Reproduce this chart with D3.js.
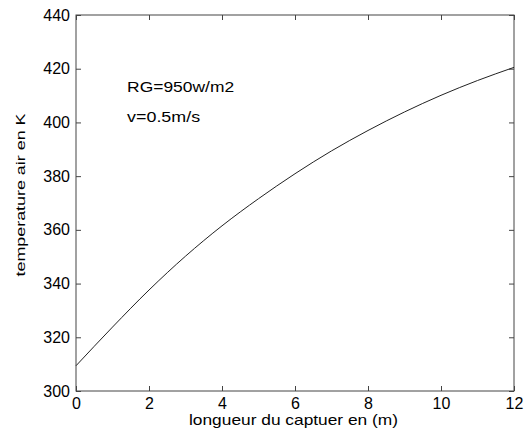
<!DOCTYPE html>
<html><head><meta charset="utf-8">
<script src="https://cdn.jsdelivr.net/npm/d3@7"></script>
<style>body{margin:0;background:#fff}svg{font-family:"Liberation Sans",Arial,sans-serif}</style>
</head><body>
<svg id="c" width="526" height="430"></svg>
<script>
const lengths = [0,1,2,3,4,5,6,7,8,9,10,11,12];
const temperatures = [309.4,323.8,337.6,350.2,361.5,371.6,380.9,389.4,397.0,403.9,410.1,415.6,420.5];
const xTicks = [0,2,4,6,8,10,12];
const yTicks = [300,320,340,360,380,400,420,440];
const annotations = ["RG=950w/m2","v=0.5m/s"];
const xLabel = "longueur du captuer en (m)";
const yLabel = "temperature air en K";

const svg = d3.select("#c");
const L=76, R=514, T=15, B=391;
const x = d3.scaleLinear().domain([0,12]).range([L,R]);
const y = d3.scaleLinear().domain([300,440]).range([B,T]);
const axisColor = "#444";

const g = svg.append("g");
function styleAxis(sel, showLabels){
  sel.select(".domain").remove();
  sel.selectAll("line").attr("stroke",axisColor);
  sel.selectAll("text").attr("fill","#000").style("font-size","16px");
  if(!showLabels) sel.selectAll("text").remove();
}
g.append("g").attr("transform",`translate(0,${B})`)
  .call(d3.axisBottom(x).tickValues(xTicks).tickSizeInner(-5).tickSizeOuter(0).tickPadding(7))
  .call(s=>styleAxis(s,true));
g.append("g").attr("transform",`translate(0,${T})`)
  .call(d3.axisTop(x).tickValues(xTicks).tickSizeInner(-5).tickSizeOuter(0))
  .call(s=>styleAxis(s,false));
g.append("g").attr("transform",`translate(${L},0)`)
  .call(d3.axisLeft(y).tickValues(yTicks).tickSizeInner(-5).tickSizeOuter(0).tickPadding(6))
  .call(s=>styleAxis(s,true));
g.append("g").attr("transform",`translate(${R},0)`)
  .call(d3.axisRight(y).tickValues(yTicks).tickSizeInner(-5).tickSizeOuter(0))
  .call(s=>styleAxis(s,false));
svg.append("rect").attr("x",L).attr("y",T).attr("width",R-L).attr("height",B-T)
  .attr("fill","none").attr("stroke",axisColor).attr("stroke-width",1);

const line = d3.line().x((d,i)=>x(lengths[i])).y(d=>y(d)).curve(d3.curveMonotoneX);
svg.append("path").datum(temperatures).attr("d",line)
  .attr("fill","none").attr("stroke","#222").attr("stroke-width",1);

svg.append("text").attr("x",x(1.4)).attr("y",y(411.3)).text(annotations[0])
  .style("font-size","14px").attr("textLength",107).attr("lengthAdjust","spacingAndGlyphs");
svg.append("text").attr("x",x(1.4)).attr("y",y(400.1)).text(annotations[1])
  .style("font-size","14px").attr("textLength",73).attr("lengthAdjust","spacingAndGlyphs");

svg.append("text").attr("x",293.5).attr("y",425).attr("text-anchor","middle")
  .style("font-size","15px").attr("textLength",209).attr("lengthAdjust","spacingAndGlyphs").text(xLabel);
svg.append("text").attr("transform",`translate(25,195) rotate(-90)`).attr("text-anchor","middle")
  .style("font-size","13px").attr("textLength",163).attr("lengthAdjust","spacingAndGlyphs").text(yLabel);
</script>
</body></html>
